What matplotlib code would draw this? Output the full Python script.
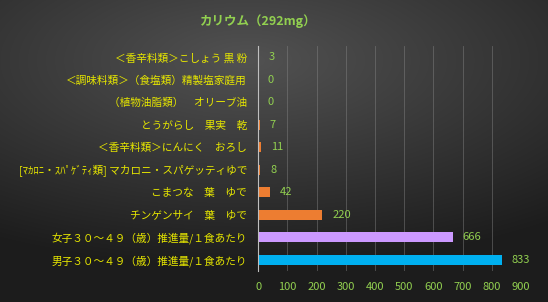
import matplotlib.pyplot as plt
import numpy as np

plt.rcParams['font.family'] = ['Noto Sans CJK JP', 'DejaVu Sans']

# データ（上から順）
labels = [
    "＜香辛料類＞こしょう 黒 粉",
    "＜調味料類＞（食塩類）精製塩家庭用",
    "（植物油脂類）　オリーブ油",
    "とうがらし　果実　乾",
    "＜香辛料類＞にんにく　おろし",
    "[ﾏｶﾛﾆ・ｽﾊﾟｹﾞﾃｨ類] マカロニ・スパゲッティゆで",
    "こまつな　葉　ゆで",
    "チンゲンサイ　葉　ゆで",
    "女子３０～４９（歳）推進量/１食あたり",
    "男子３０～４９（歳）推進量/１食あたり",
]
values = [3, 0, 0, 7, 11, 8, 42, 220, 666, 833]
colors = ["#ed7d31"] * 8 + ["#cc99ff", "#00b0f0"]
title = "カリウム（292mg）"

fig = plt.figure(figsize=(5.48, 3.02), dpi=100)

# 背景のグラデーション
bg = fig.add_axes([0, 0, 1, 1])
yy, xx = np.mgrid[0:1:302j, 0:1:548j]
r = np.sqrt(((xx - 0.45) * 1.0) ** 2 + ((yy - 0.2) * 1.3) ** 2)
r = np.clip(r / 0.9, 0, 1)
c0 = np.array([0x52, 0x52, 0x52]) / 255
c1 = np.array([0x1c, 0x1c, 0x1c]) / 255
img = c0[None, None, :] * (1 - r[..., None]) + c1[None, None, :] * r[..., None]
bg.imshow(img, aspect='auto', extent=[0, 1, 0, 1], origin='upper')
bg.axis('off')

ax = fig.add_axes([0.471, 0.103, 0.48, 0.745])
ax.patch.set_alpha(0)
y = np.arange(len(labels))[::-1]
ax.barh(y, values, height=0.45, color=colors, zorder=3)
ax.set_xlim(0, 900)
ax.set_ylim(-0.5, len(labels) - 0.5)
ax.set_xticks(np.arange(0, 901, 100))
ax.set_yticks(y)
ax.set_yticklabels(labels)
ax.tick_params(axis='y', length=0, pad=8, labelcolor='#e6e600', labelsize=7.7)
ax.tick_params(axis='x', length=0, pad=8, labelcolor='#92d050', labelsize=8)
ax.grid(axis='x', color='#8a8a8a', linewidth=0.6, alpha=0.5, zorder=0)
for s in ['top', 'right', 'bottom']:
    ax.spines[s].set_visible(False)
ax.spines['left'].set_color('#bfbfbf')
ax.spines['left'].set_linewidth(0.8)
ax.spines['left'].set_zorder(4)

for yi, v in zip(y, values):
    ax.annotate(str(v), (v, yi), xytext=(7, 0), textcoords='offset points',
                va='center', ha='left', color='#92d050', fontsize=8)

fig.text(0.472, 0.93, title, ha='center', va='center', color='#92d050',
         fontsize=9, fontweight='bold')

fig.savefig("out.png", dpi=100)
